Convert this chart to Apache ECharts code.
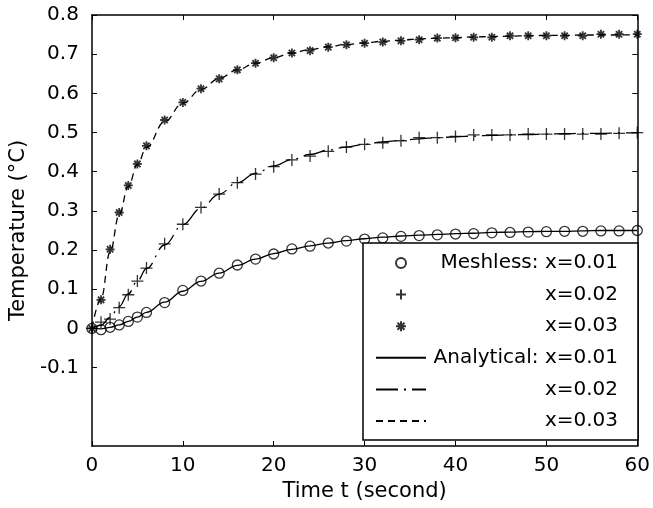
<!DOCTYPE html>
<html>
<head>
<meta charset="utf-8">
<script src="https://cdn.jsdelivr.net/npm/echarts@6/dist/echarts.min.js"></script>
<style>
  html, body { margin: 0; padding: 0; background: #fff; }
  #chart { width: 653px; height: 508px; }
</style>
</head>
<body>
<div id="chart"></div>
<script>
// time points (s)
var times = [0, 1, 2, 3, 4, 5, 6, 8, 10, 12, 14, 16, 18, 20, 22, 24, 26, 28, 30,
  32, 34, 36, 38, 40, 42, 44, 46, 48, 50, 52, 54, 56, 58, 60];

// meshless results (markers)
var meshX1 = [0, -0.003, 0.003, 0.009, 0.018, 0.029, 0.041, 0.066, 0.097, 0.121, 0.141, 0.162, 0.177, 0.190, 0.203, 0.210, 0.218,
  0.223, 0.228, 0.231, 0.235, 0.237, 0.239, 0.241, 0.242, 0.244, 0.245, 0.246, 0.247, 0.248, 0.248, 0.249, 0.249, 0.250];
var meshX2 = [0, 0.016, 0.024, 0.053, 0.086, 0.121, 0.154, 0.216, 0.266, 0.309, 0.343, 0.372, 0.394, 0.413, 0.430, 0.440, 0.452,
  0.463, 0.470, 0.474, 0.479, 0.487, 0.487, 0.490, 0.494, 0.494, 0.494, 0.496, 0.496, 0.496, 0.496, 0.496, 0.498, 0.500];
var meshX3 = [0, 0.073, 0.202, 0.296, 0.365, 0.420, 0.466, 0.532, 0.577, 0.612, 0.637, 0.660, 0.677, 0.691, 0.703, 0.709, 0.718,
  0.724, 0.728, 0.731, 0.734, 0.737, 0.741, 0.742, 0.743, 0.743, 0.747, 0.747, 0.747, 0.747, 0.747, 0.751, 0.751, 0.751];

// analytical solution (lines)
var anaX1 = [0, -0.001, 0.003, 0.009, 0.018, 0.029, 0.041, 0.067, 0.095, 0.120, 0.141, 0.161, 0.177, 0.191, 0.202, 0.211, 0.218,
  0.224, 0.229, 0.233, 0.236, 0.238, 0.240, 0.242, 0.243, 0.245, 0.246, 0.247, 0.248, 0.248, 0.249, 0.250, 0.250, 0.250];
var anaX2 = [0, 0.008, 0.028, 0.056, 0.088, 0.121, 0.153, 0.213, 0.265, 0.307, 0.343, 0.372, 0.396, 0.415, 0.431, 0.444, 0.455,
  0.463, 0.470, 0.476, 0.480, 0.484, 0.487, 0.489, 0.491, 0.493, 0.494, 0.495, 0.496, 0.497, 0.498, 0.498, 0.499, 0.499];
var anaX3 = [0, 0.075, 0.195, 0.290, 0.362, 0.418, 0.462, 0.528, 0.575, 0.610, 0.638, 0.660, 0.677, 0.691, 0.703, 0.712, 0.719,
  0.725, 0.729, 0.733, 0.736, 0.739, 0.741, 0.742, 0.744, 0.745, 0.746, 0.747, 0.748, 0.748, 0.749, 0.749, 0.749, 0.750];

var yTicks = [-0.1, 0, 0.1, 0.2, 0.3, 0.4, 0.5, 0.6, 0.7, 0.8];
var seriesNames = ['Meshless: x=0.01', 'Meshless: x=0.02', 'Meshless: x=0.03',
  'Analytical: x=0.01', 'Analytical: x=0.02', 'Analytical: x=0.03'];
var legendLabels = ['Meshless: x=0.01', 'x=0.02', 'x=0.03', 'Analytical: x=0.01', 'x=0.02', 'x=0.03'];

function pairs(ys) {
  return times.map(function (t, i) { return [t, ys[i]]; });
}

var FONT = 'DejaVu Sans';
var plusPath = 'path://M5,0L5,10M0,5L10,5';
var starPath = 'path://M5,0L5,10M0,5L10,5M1.5,1.5L8.5,8.5M1.5,8.5L8.5,1.5';

var markerStyle = { color: 'rgba(0,0,0,0)', borderColor: '#000', borderWidth: 1.3 };

function xAx(pos) {
  return {
    type: 'value', position: pos, min: 0, max: 60, interval: 10,
    axisLine: { show: true, onZero: false, lineStyle: { color: '#000', width: 1.5 } },
    axisTick: { show: true, inside: true, length: 5, lineStyle: { color: '#000' } },
    axisLabel: { show: pos === 'bottom', margin: 10, color: '#000', fontSize: 20, fontFamily: FONT },
    splitLine: { show: false }
  };
}
function yAx(pos) {
  return {
    type: 'value', position: pos, min: -0.3, max: 0.8,
    axisLine: { show: true, onZero: false, lineStyle: { color: '#000', width: 1.5 } },
    axisTick: { show: true, inside: true, length: 5, customValues: yTicks, lineStyle: { color: '#000' } },
    axisLabel: { show: pos === 'left', margin: 13, color: '#000', fontSize: 20, fontFamily: FONT, customValues: yTicks },
    splitLine: { show: false }
  };
}

var chart = echarts.init(document.getElementById('chart'));
var xBottom = xAx('bottom');
xBottom.name = 'Time t (second)';
xBottom.nameLocation = 'middle';
xBottom.nameGap = 33;
xBottom.nameTextStyle = { color: '#000', fontSize: 21, fontFamily: FONT };
var yLeft = yAx('left');
yLeft.name = 'Temperature (°C)';
yLeft.nameLocation = 'middle';
yLeft.nameGap = 56;
yLeft.nameTextStyle = { color: '#000', fontSize: 21, fontFamily: FONT };

// legend entries; analytical rows show only the line, no symbol
var legendData = seriesNames.map(function (n, i) {
  return i < 3 ? { name: n } : { name: n, itemStyle: { opacity: 0 } };
});

chart.setOption({
  animation: false,
  backgroundColor: '#fff',
  grid: { left: 88, right: 13.5, top: 15, bottom: 62 },
  xAxis: [xBottom, xAx('top')],
  yAxis: [yLeft, yAx('right')],
  legend: {
    orient: 'vertical',
    left: 363, top: 243,
    padding: [10, 20, 9, 12],
    itemWidth: 50, itemHeight: 10, itemGap: 11.6,
    borderColor: '#000', borderWidth: 1.5,
    backgroundColor: '#fff',
    data: legendData,
    formatter: function (name) {
      return '{r|' + legendLabels[seriesNames.indexOf(name)] + '}';
    },
    textStyle: {
      color: '#000', fontSize: 20, fontFamily: FONT,
      rich: { r: { width: 187, align: 'right', fontSize: 20, fontFamily: FONT, lineHeight: 22, color: '#000' } }
    }
  },
  series: [
    { name: seriesNames[0], type: 'scatter', symbol: 'circle', symbolSize: 10, itemStyle: markerStyle, data: pairs(meshX1), z: 3 },
    { name: seriesNames[1], type: 'scatter', symbol: plusPath, symbolSize: 12, itemStyle: markerStyle, data: pairs(meshX2), z: 3 },
    { name: seriesNames[2], type: 'scatter', symbol: starPath, symbolSize: 9, itemStyle: { color: 'rgba(0,0,0,0)', borderColor: '#000', borderWidth: 1.8 }, data: pairs(meshX3), z: 3 },
    { name: seriesNames[3], type: 'line', symbol: 'none', smooth: 0.4, smoothMonotone: 'x',
      lineStyle: { color: '#000', width: 1.3, type: 'solid' }, itemStyle: { color: '#000' }, data: pairs(anaX1), z: 2 },
    { name: seriesNames[4], type: 'line', symbol: 'none', smooth: 0.4, smoothMonotone: 'x',
      lineStyle: { color: '#000', width: 1.3, type: [22, 6, 2, 6] }, itemStyle: { color: '#000' }, data: pairs(anaX2), z: 2 },
    { name: seriesNames[5], type: 'line', symbol: 'none', smooth: 0.4, smoothMonotone: 'x',
      lineStyle: { color: '#000', width: 1.3, type: [7, 5] }, itemStyle: { color: '#000' }, data: pairs(anaX3), z: 2 }
  ]
});
</script>
</body>
</html>
